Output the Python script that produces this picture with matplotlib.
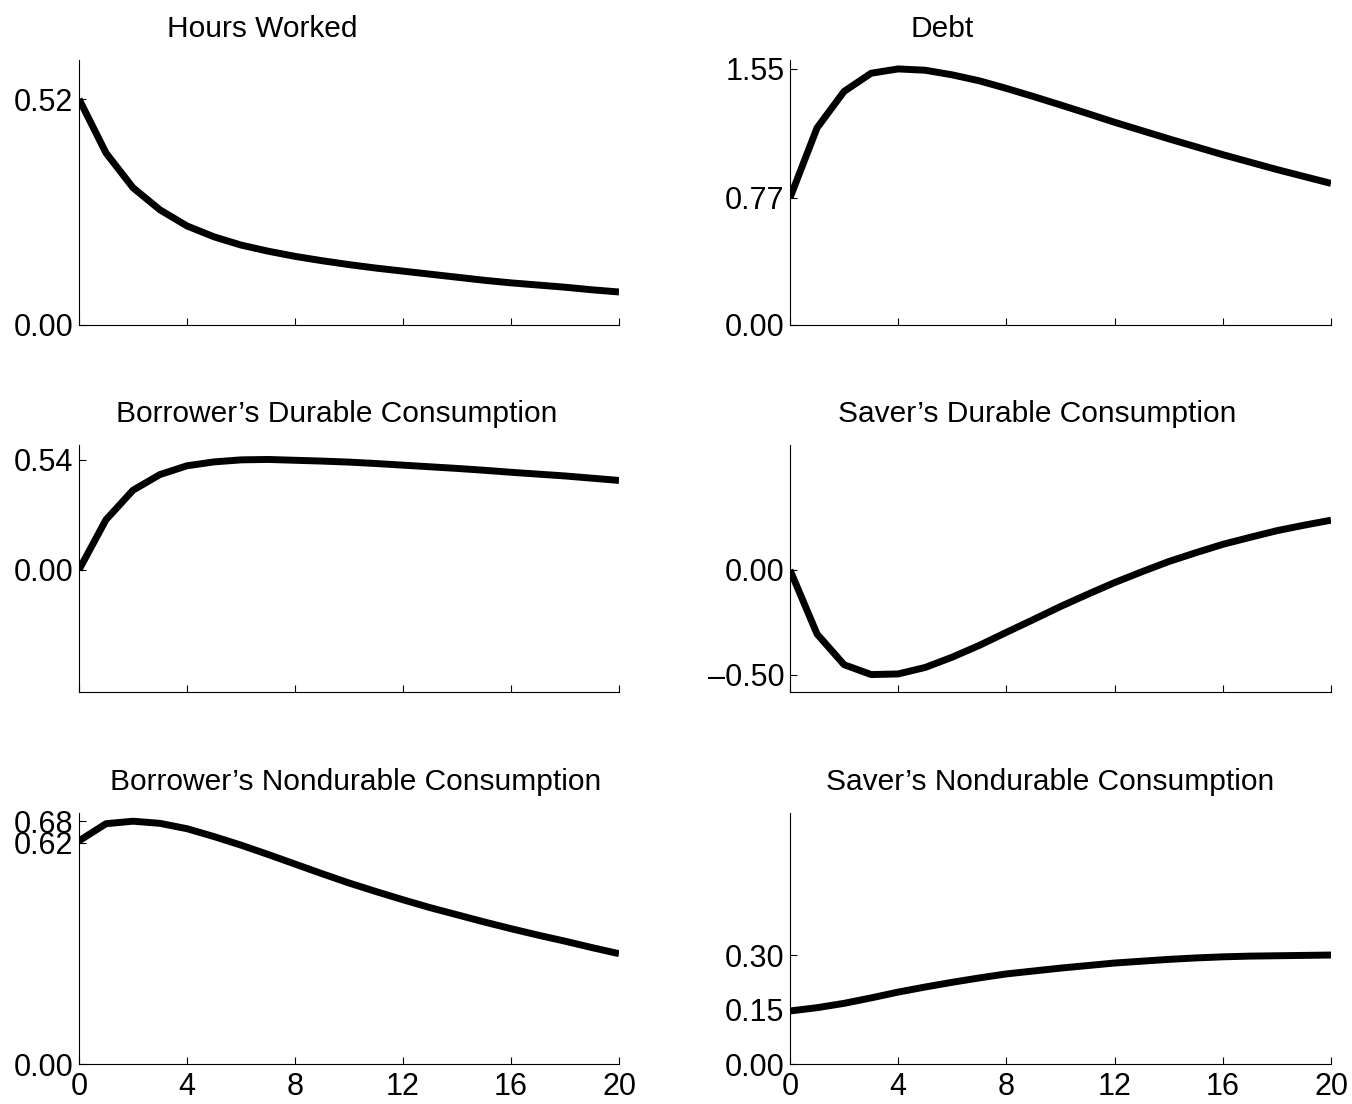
import matplotlib
matplotlib.use("Agg")
import matplotlib.pyplot as plt

plt.rcParams["font.family"] = ["Liberation Sans", "DejaVu Sans"]

W, H = 1352, 1104

periods = list(range(21))

hours_worked = [0.520, 0.396, 0.316, 0.265, 0.228, 0.203, 0.184, 0.170, 0.158, 0.148, 0.139,
                0.131, 0.124, 0.117, 0.110, 0.103, 0.097, 0.092, 0.087, 0.081, 0.076]
debt = [0.770, 1.193, 1.414, 1.524, 1.550, 1.542, 1.514, 1.478, 1.432, 1.383, 1.332,
        1.280, 1.227, 1.177, 1.127, 1.079, 1.031, 0.986, 0.941, 0.899, 0.857]
borrower_durable = [0.000, 0.246, 0.391, 0.468, 0.511, 0.530, 0.540, 0.542, 0.538, 0.534, 0.529,
                    0.522, 0.514, 0.506, 0.498, 0.489, 0.479, 0.470, 0.461, 0.450, 0.439]
saver_durable = [0.000, -0.305, -0.451, -0.498, -0.495, -0.464, -0.415, -0.359, -0.297, -0.236, -0.174,
                 -0.116, -0.060, -0.009, 0.040, 0.082, 0.122, 0.155, 0.187, 0.213, 0.237]
borrower_nondurable = [0.625, 0.673, 0.680, 0.674, 0.659, 0.637, 0.613, 0.587, 0.560, 0.533, 0.507,
                       0.483, 0.460, 0.438, 0.418, 0.398, 0.379, 0.361, 0.344, 0.326, 0.309]
saver_nondurable = [0.146, 0.155, 0.167, 0.182, 0.198, 0.212, 0.225, 0.237, 0.248, 0.256, 0.264,
                    0.271, 0.278, 0.283, 0.288, 0.292, 0.295, 0.297, 0.298, 0.299, 0.300]

titles = ["Hours Worked", "Debt",
          "Borrower\u2019s Durable Consumption", "Saver\u2019s Durable Consumption",
          "Borrower\u2019s Nondurable Consumption", "Saver\u2019s Nondurable Consumption"]
series = [hours_worked, debt, borrower_durable, saver_durable, borrower_nondurable, saver_nondurable]
yticks = [[0.0, 0.52], [0.0, 0.77, 1.55], [0.0, 0.54], [-0.50, 0.0],
          [0.0, 0.62, 0.68], [0.0, 0.15, 0.30]]
ylims = [(0, 0.61), (0, 1.604), (-0.60, 0.613), (-0.581, 0.595), (0, 0.703), (0, 0.691)]
xticks = [0, 4, 8, 12, 16, 20]

# axes boxes in pixels: (left, right, top, bottom)
col_x = [(79, 619), (790, 1331)]
row_y = [(60, 325), (445, 692), (813, 1064)]
title_x = [262, 942, 337, 1037, 356, 1050]

fig = plt.figure(figsize=(W / 100, H / 100), dpi=100)

for i, (name, values) in enumerate(zip(titles, series)):
    r, c = divmod(i, 2)
    x0, x1 = col_x[c]
    y0, y1 = row_y[r]
    ax = fig.add_axes([x0 / W, 1 - y1 / H, (x1 - x0) / W, (y1 - y0) / H])
    ax.plot(periods, values, color="black", linewidth=5, solid_capstyle="butt")
    ax.set_xlim(0, 20)
    ax.set_ylim(*ylims[i])
    ax.set_xticks(xticks)
    ax.set_yticks(yticks[i])
    ax.set_yticklabels([f"{v:.2f}".replace("-", "\u2013") for v in yticks[i]])
    if r < 2:
        ax.set_xticklabels([])
    ax.spines["top"].set_visible(False)
    ax.spines["right"].set_visible(False)
    for side in ["left", "bottom"]:
        ax.spines[side].set_linewidth(0.8)
    ax.tick_params(axis="both", direction="in", length=5, width=0.8, labelsize=22)
    ax.tick_params(axis="y", pad=4)
    ax.tick_params(axis="x", pad=6)
    fig.text(title_x[i] / W, 1 - (y0 - 31) / H, name, ha="center", va="center", fontsize=21.5)

fig.savefig("out.png", dpi=100)
